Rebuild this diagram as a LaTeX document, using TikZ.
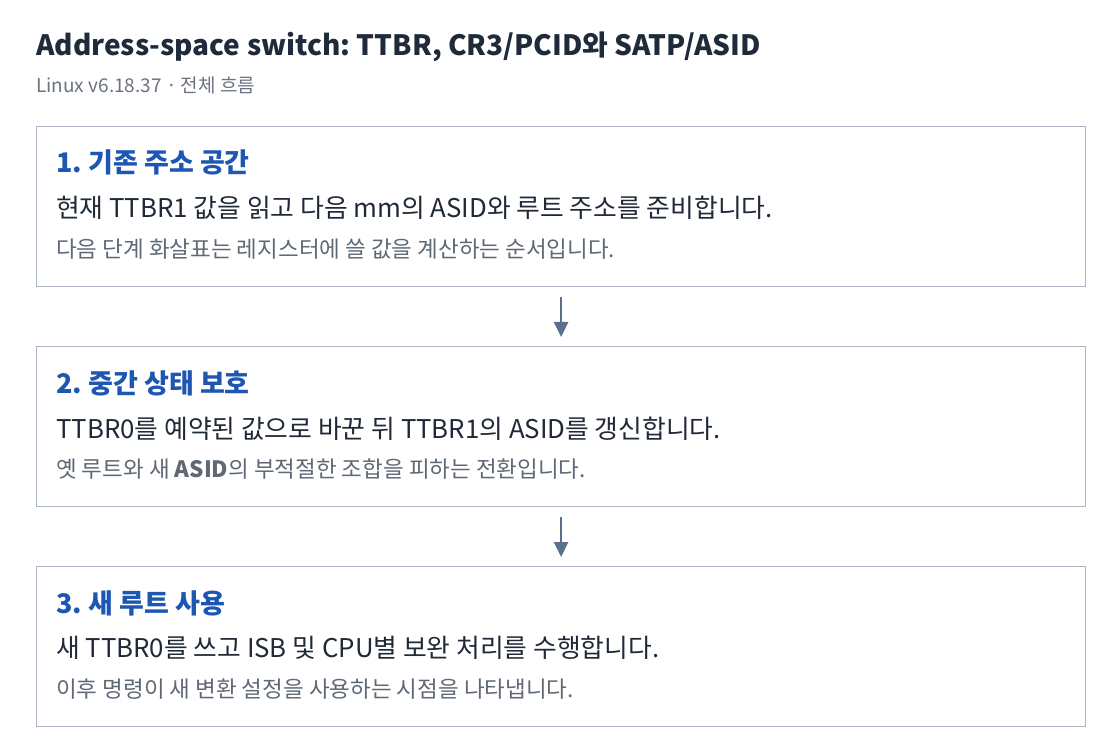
\documentclass[tikz,border=0pt]{standalone}
\usepackage{fontspec}
\setmainfont{Noto Sans CJK KR}
\usetikzlibrary{arrows.meta}
\definecolor{titlec}{HTML}{1F2A3A}
\definecolor{subc}{HTML}{6B7280}
\definecolor{headc}{HTML}{1D57B2}
\definecolor{bodyc}{HTML}{1F2937}
\definecolor{smallc}{HTML}{5F6875}
\definecolor{borderc}{HTML}{AAB4C2}
\definecolor{arrowc}{HTML}{58708C}
\tikzset{
  stepbox/.style={draw=borderc, line width=1.2pt, minimum width=1049pt, minimum height=160pt, inner sep=0pt, anchor=north west},
  titletext/.style={anchor=base west, inner sep=0pt, text=titlec, font=\fontsize{28}{32}\selectfont\bfseries},
  subtext/.style={anchor=base west, inner sep=0pt, text=subc, font=\fontsize{19}{22}\selectfont},
  headtext/.style={anchor=base west, inner sep=0pt, text=headc, font=\fontsize{27}{31}\selectfont\bfseries},
  bodytext/.style={anchor=base west, inner sep=0pt, text=bodyc, font=\fontsize{25.8}{30}\selectfont},
  smalltext/.style={anchor=base west, inner sep=0pt, text=smallc, font=\fontsize{22.5}{26}\selectfont},
  flow/.style={draw=arrowc, line width=2.6pt, -{Triangle[width=14pt,length=15pt]}, shorten <=10pt, shorten >=9pt}
}
\begin{document}
\frenchspacing
\begin{tikzpicture}[x=1pt,y=-1pt]
\useasboundingbox (0,0) rectangle (1120,754);
\node[titletext] (title) at (36,56) {Address-space switch: TTBR, CR3/PCID와 SATP/ASID};
\node[subtext] (sub) at (36,93) {Linux v6.18.37 · 전체 흐름};

\node[stepbox] (b1) at (36,126) {};
\node[headtext] (h1) at (56,173) {1. 기존 주소 공간};
\node[bodytext] (t1) at (56,218) {현재 TTBR1 값을 읽고 다음 mm의 ASID와 루트 주소를 준비합니다.};
\node[smalltext] (s1) at (56,257.5) {다음 단계 화살표는 레지스터에 쓸 값을 계산하는 순서입니다.};

\node[stepbox] (b2) at (36,346) {};
\node[headtext] (h2) at (56,393) {2. 중간 상태 보호};
\node[bodytext] (t2) at (56,438) {TTBR0를 예약된 값으로 바꾼 뒤 TTBR1의 ASID를 갱신합니다.};
\node[smalltext] (s2) at (56,477.5) {옛 루트와 새 {\bfseries ASID}의 부적절한 조합을 피하는 전환입니다.};

\node[stepbox] (b3) at (36,566) {};
\node[headtext] (h3) at (56,613) {3. 새 루트 사용};
\node[bodytext] (t3) at (56,657) {새 TTBR0를 쓰고 ISB 및 CPU별 보완 처리를 수행합니다.};
\node[smalltext] (s3) at (56,697.5) {이후 명령이 새 변환 설정을 사용하는 시점을 나타냅니다.};

\draw[flow] (b1.south) -- (b2.north);
\draw[flow] (b2.south) -- (b3.north);
\end{tikzpicture}
\end{document}
